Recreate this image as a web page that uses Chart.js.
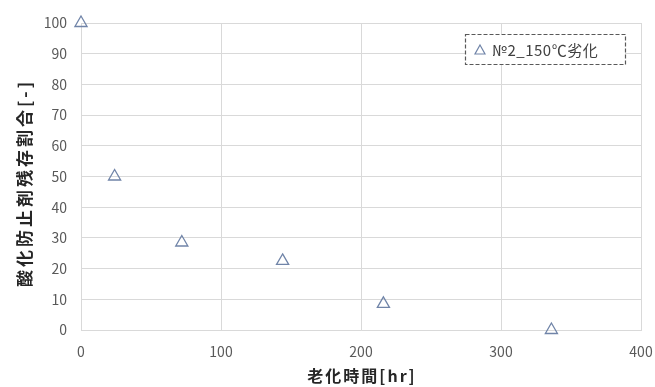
<!DOCTYPE html>
<html lang="ja">
<head>
  <meta charset="UTF-8">
  <title>酸化防止剤残存割合</title>
  <script src="https://cdn.jsdelivr.net/npm/chart.js"></script>
  <style>
    html, body { margin: 0; padding: 0; background: #fff; }
    #wrap { width: 655px; height: 387px; }
  </style>
</head>
<body>
  <div id="wrap"><canvas id="c" width="655" height="387"></canvas></div>
  <script>
    const hours = [0, 24, 72, 144, 216, 336];
    const remain = [100, 50, 28.5, 22.5, 8.5, 0];
    const seriesName = '№2_150℃劣化';
    const xTitle = '老化時間[hr]';
    const yTitle = '酸化防止剤残存割合[-]';

    const font = "'Noto Sans CJK JP', 'Noto Sans', sans-serif";
    const markColor = '#7084a8';

    // axis titles drawn by hand so the letter spacing can match
    const axisTitles = {
      id: 'axisTitles',
      afterDraw(chart) {
        const ctx = chart.ctx;
        const a = chart.chartArea;
        ctx.save();
        ctx.fillStyle = '#262626';
        ctx.textAlign = 'center';
        ctx.textBaseline = 'middle';
        ctx.font = 'bold 16px ' + font;
        ctx.letterSpacing = '2px';
        ctx.fillText(xTitle, (a.left + a.right) / 2 + 1, 376);
        ctx.translate(25, 183);
        ctx.rotate(-Math.PI / 2);
        ctx.font = 'bold 17px ' + font;
        ctx.letterSpacing = '3px';
        ctx.fillText(yTitle, 0, 0);
        ctx.restore();
      }
    };

    // dashed legend box in the top right corner
    const boxLegend = {
      id: 'boxLegend',
      afterDraw(chart) {
        const ctx = chart.ctx;
        const x = 465, y = 34, w = 160, h = 30;
        ctx.save();
        ctx.fillStyle = '#fff';
        ctx.fillRect(x, y, w, h);
        ctx.setLineDash([4, 2]);
        ctx.strokeStyle = '#595959';
        ctx.lineWidth = 1.2;
        ctx.strokeRect(x + 0.5, y + 0.5, w, h);
        ctx.setLineDash([]);
        const mx = x + 15, my = y + 16;
        ctx.strokeStyle = markColor;
        ctx.lineWidth = 1.2;
        ctx.beginPath();
        ctx.moveTo(mx, my - 5);
        ctx.lineTo(mx + 5, my + 4);
        ctx.lineTo(mx - 5, my + 4);
        ctx.closePath();
        ctx.stroke();
        ctx.fillStyle = '#404040';
        ctx.font = '15px ' + font;
        ctx.letterSpacing = '0.5px';
        ctx.textBaseline = 'middle';
        ctx.fillText(chart.data.datasets[0].label, mx + 12, my);
        ctx.restore();
      }
    };

    new Chart(document.getElementById('c'), {
      type: 'scatter',
      data: {
        datasets: [{
          label: seriesName,
          data: hours.map((h, i) => ({ x: h, y: remain[i] })),
          pointStyle: 'triangle',
          pointRadius: 7,
          pointBorderWidth: 1.3,
          borderColor: markColor,
          backgroundColor: 'rgba(255,255,255,0)',
          pointHoverRadius: 7
        }]
      },
      options: {
        responsive: false,
        animation: false,
        clip: false,
        layout: { padding: { top: 23, right: 0, left: 0, bottom: 0 } },
        plugins: {
          legend: { display: false },
          tooltip: { enabled: false }
        },
        scales: {
          x: {
            type: 'linear',
            min: 0, max: 400,
            ticks: { stepSize: 100, color: '#595959', font: { size: 14, family: font }, padding: 13 },
            grid: { color: '#d9d9d9', drawTicks: false },
            border: { color: '#d9d9d9' },
            afterFit(s) { s.height = 57; s.paddingRight = 14; }
          },
          y: {
            min: 0, max: 100,
            ticks: { stepSize: 10, color: '#595959', font: { size: 14, family: font }, padding: 14 },
            grid: { color: '#d9d9d9', drawTicks: false },
            border: { color: '#d9d9d9' },
            afterFit(s) { s.width = 81; }
          }
        }
      },
      plugins: [axisTitles, boxLegend]
    });
  </script>
</body>
</html>
